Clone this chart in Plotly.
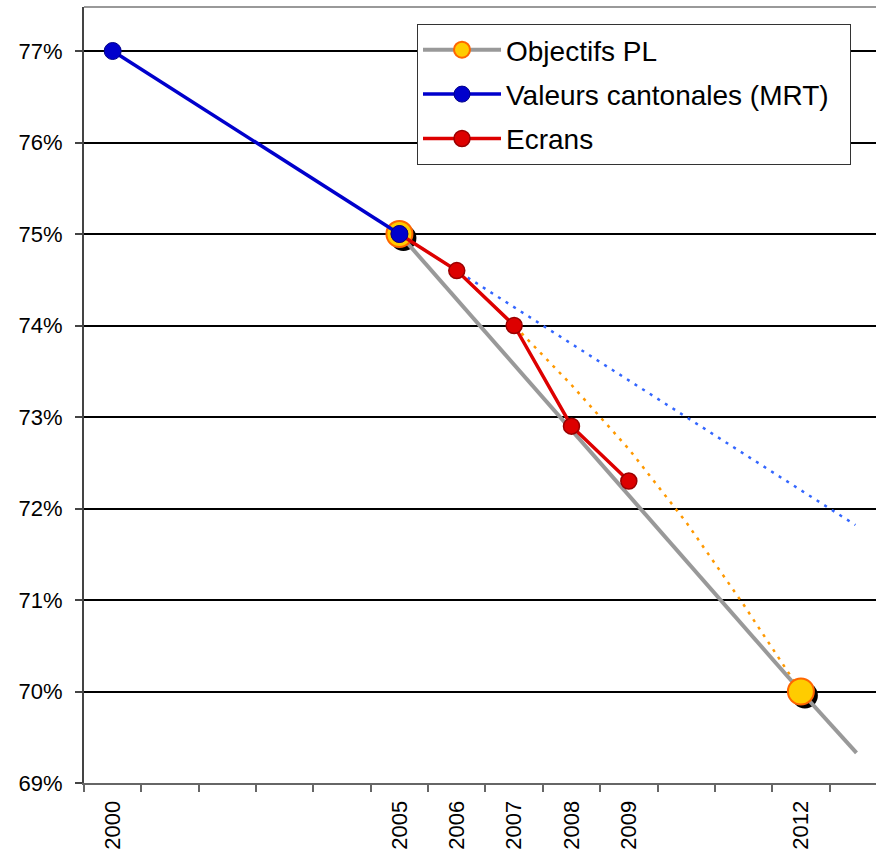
import plotly.graph_objects as go

# ---- data (percent) ----
years_label = [2000, 2005, 2006, 2007, 2008, 2009, 2012]
tick_text = [str(y) for y in years_label]

obj_years = [2005, 2012]
obj_values = [75.0, 70.0]

mrt_years = [2000, 2005]
mrt_values = [77.0, 75.0]

ecr_years = [2005, 2006, 2007, 2008, 2009]
ecr_values = [75.0, 74.6, 74.0, 72.9, 72.3]

# trend / projection lines
gray_trend_years = [2012, 2012.97]
gray_trend_values = [70.0, 69.33]

blue_trend_years = [2005, 2012.95]
blue_trend_values = [75.0, 71.82]

orange_proj_years = [2006, 2007, 2008, 2009, 2010, 2011, 2012]
orange_proj_values = [74.6, 74.0, 73.35, 72.65, 71.85, 70.95, 70.0]

y_ticks = [69, 70, 71, 72, 73, 74, 75, 76, 77]

# ---- layout constants ----
W, H = 876, 853
ML, MR, MT, MB = 84, 0, 7, 70
X0 = 1999.5
PX_PER_YEAR = 57.35
PX_PER_PCT = 91.5
X1 = X0 + (W - ML - MR) / PX_PER_YEAR
Y0 = 69.0
Y1 = Y0 + (H - MT - MB) / PX_PER_PCT

# shadow offset (pixels -> data units)
SH_DX = 4 / PX_PER_YEAR
SH_DY = -4 / PX_PER_PCT

fig = go.Figure()

fig.add_trace(go.Scatter(
    x=blue_trend_years, y=blue_trend_values, mode="lines",
    line=dict(color="#3366FF", width=2.5, dash="3px,6px"),
    showlegend=False, hoverinfo="skip"))

fig.add_trace(go.Scatter(
    x=orange_proj_years, y=orange_proj_values, mode="lines",
    line=dict(color="#FF9900", width=2.5, dash="3px,6px"),
    showlegend=False, hoverinfo="skip"))

fig.add_trace(go.Scatter(
    x=[x + SH_DX for x in obj_years], y=[v + SH_DY for v in obj_values],
    mode="markers", marker=dict(color="black", size=26),
    showlegend=False, hoverinfo="skip"))

fig.add_trace(go.Scatter(
    x=gray_trend_years, y=gray_trend_values, mode="lines",
    line=dict(color="#999999", width=4),
    showlegend=False, hoverinfo="skip"))

fig.add_trace(go.Scatter(
    x=obj_years, y=obj_values, mode="lines+markers", name="Objectifs PL",
    line=dict(color="#999999", width=4),
    marker=dict(color="#FFCC00", size=26, line=dict(color="#FF6600", width=2)),
    legendgroup="a", legendrank=1))

fig.add_trace(go.Scatter(
    x=ecr_years, y=ecr_values, mode="lines+markers", name="Ecrans",
    line=dict(color="#DD0000", width=3.5),
    marker=dict(color="#DD0000", size=16, line=dict(color="#990000", width=1.5)),
    legendgroup="c", legendrank=3))

fig.add_trace(go.Scatter(
    x=mrt_years, y=mrt_values, mode="lines+markers",
    name="Valeurs cantonales (MRT)\u00a0\u00a0",
    line=dict(color="#0000CC", width=3.5),
    marker=dict(color="#0000CC", size=17, line=dict(color="#000088", width=1)),
    legendgroup="b", legendrank=2))

fig.update_layout(
    width=W, height=H,
    margin=dict(l=ML, r=MR, t=MT, b=MB, autoexpand=False),
    paper_bgcolor="white", plot_bgcolor="white",
    font=dict(family="Liberation Sans, Arial, sans-serif", color="black", size=22),
    legend=dict(
        x=(417 - ML) / (W - ML - MR), y=1 - (24 - MT) / (H - MT - MB),
        xanchor="left", yanchor="top",
        bgcolor="white", bordercolor="#333333", borderwidth=1,
        font=dict(size=28), tracegroupgap=5, itemwidth=78,
        traceorder="grouped",
    ),
    showlegend=True,
    shapes=[dict(type="line", xref="paper", yref="paper", x0=0, x1=1, y0=1, y1=1,
                 line=dict(color="#999999", width=2))],
)

fig.update_xaxes(
    range=[X0, X1], showgrid=False, zeroline=False, automargin=False,
    tickmode="array", tickvals=years_label, ticktext=tick_text,
    tickangle=-90, ticks="", ticklabelstandoff=7,
    showline=True, linecolor="#666666", linewidth=2,
    tickfont=dict(size=22),
    minor=dict(tickmode="linear", tick0=1999.5, dtick=1, ticks="outside",
               ticklen=7, tickcolor="#666666", tickwidth=1.5, showgrid=False),
)

fig.update_yaxes(
    range=[Y0, Y1], tickmode="array", tickvals=y_ticks, automargin=False,
    ticktext=[f"{v}%" for v in y_ticks],
    showgrid=True, gridcolor="black", gridwidth=2, zeroline=False,
    showline=True, linecolor="#444444", linewidth=2,
    ticks="outside", ticklen=7, tickcolor="#444444", tickwidth=1.5,
    ticklabelstandoff=8, tickfont=dict(size=22),
)

fig.write_html("out.html", config={"displayModeBar": False},
               post_script="document.body.style.margin='0px';")
